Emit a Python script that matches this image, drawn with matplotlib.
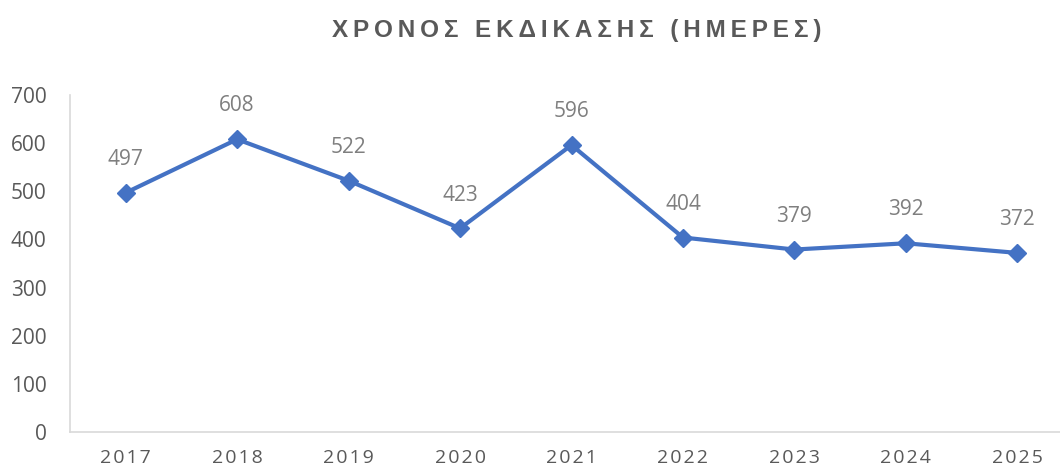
import matplotlib.pyplot as plt

years = ['2017', '2018', '2019', '2020', '2021', '2022', '2023', '2024', '2025']
days = [497, 608, 522, 423, 596, 404, 379, 392, 372]
title = 'ΧΡΟΝΟΣ ΕΚΔΙΚΑΣΗΣ (ΗΜΕΡΕΣ)'

plt.rcParams['font.family'] = ['Open Sans', 'DejaVu Sans']

def spaced(s):
    return '\u200a'.join(s)

fig = plt.figure(figsize=(10.6, 4.68), dpi=100)
ax = fig.add_axes([70 / 1060, 36 / 468, 1003 / 1060, 337 / 468])

x = range(len(years))
ax.plot(x, days, color='#4472C4', linewidth=3, marker='D', markersize=9, zorder=3)
for i, v in zip(x, days):
    ax.annotate(str(v), (i, v), xytext=(0, 24), textcoords='offset points',
                ha='center', va='center', fontsize=15, color='#7F7F7F')

ax.set_xlim(-0.5, len(years) - 0.5)
ax.set_ylim(0, 700)
ax.set_yticks(range(0, 701, 100))
ax.set_xticks(list(x))
ax.set_xticklabels([spaced(y) for y in years])
ax.tick_params(axis='both', length=0, labelsize=14, labelcolor='#595959')
ax.tick_params(axis='y', pad=17, labelsize=15)
ax.tick_params(axis='x', pad=12)
for side in ['top', 'right']:
    ax.spines[side].set_visible(False)
for side in ['left', 'bottom']:
    ax.spines[side].set_color('#D9D9D9')
    ax.spines[side].set_linewidth(1.2)

fig.text(0.544, 0.935, '\u2009'.join(title), ha='center', va='center',
         fontsize=17.5, fontweight='bold', color='#595959',
         family=['Liberation Sans', 'DejaVu Sans'])

fig.savefig('out.png', dpi=100)
